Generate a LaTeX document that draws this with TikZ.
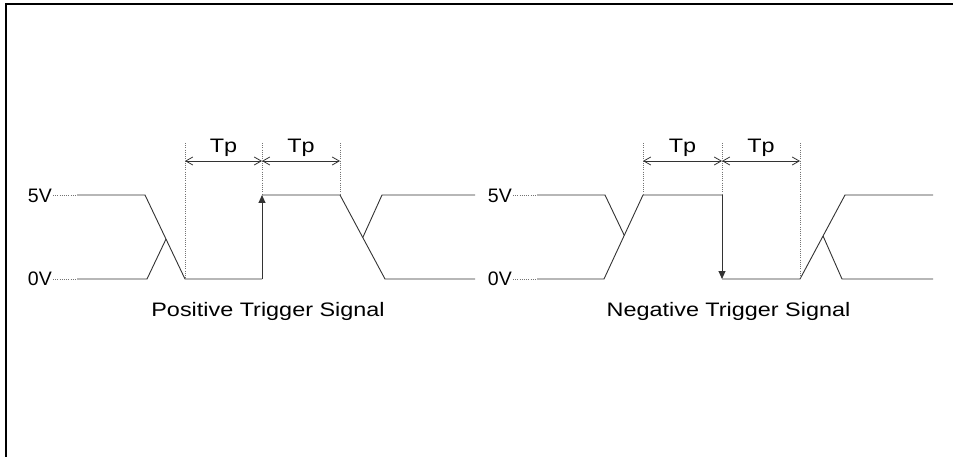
\documentclass[tikz,border=0pt]{standalone}
\usepackage{fontspec}
\setmainfont{Liberation Sans}
\usetikzlibrary{arrows.meta}
\begin{document}
\begin{tikzpicture}[x=1pt,y=-1pt,
  sig/.style={line width=0.9pt, black!80},
  guide/.style={line width=0.6pt, black!55, dash pattern=on 1pt off 1.2pt},
  dimarrow/.style={line width=0.8pt, black!80, {Straight Barb[length=7pt,width=8pt]}-{Straight Barb[length=7pt,width=8pt]}},
  edgearrow/.style={sig, -{Triangle[length=8pt,width=7pt]}},
  lvl/.style={font=\fontsize{19.5}{22}\selectfont, inner sep=0pt, anchor=east},
  lbl/.style={font=\fontsize{19.5}{22}\selectfont, inner sep=0pt, anchor=base},
  frame/.style={line width=2pt, black}]
\useasboundingbox (0,0) rectangle (953,457);
\draw[frame] (5.5,457) -- (5.5,4.5) -- (953,4.5);

% ---------- left panel: positive trigger ----------
\node[lvl] (L5) at (52,196) {5V};
\node[lvl] (L0) at (52,279) {0V};
\coordinate (Lh0) at (53,195);
\coordinate (Ll0) at (53,279);
\coordinate (Lhs) at (77,195);
\coordinate (Lls) at (77,279);
\draw[guide] (Lh0) -- (Lhs);
\draw[guide] (Ll0) -- (Lls);

\coordinate (La1) at (145,195);
\coordinate (La2) at (185,279);
\coordinate (Lb1) at (147,279);
\coordinate (Lb2) at (187,195);
\coordinate (Lx1) at (intersection of La1--La2 and Lb1--Lb2);
\coordinate (Ledge0) at (262,279);
\coordinate (Ledge1) at (262,195);
\coordinate (Lc1) at (340,195);
\coordinate (Lc2) at (385,279);
\coordinate (Ld1) at (344,279);
\coordinate (Ld2) at (382,195);
\coordinate (Lx2) at (intersection of Lc1--Lc2 and Ld1--Ld2);

\draw[sig] (Lhs) -- (La1) -- (La2) -- (Ledge0);
\draw[sig] (Lls) -- (Lb1) -- (Lx1);
\draw[edgearrow] (Ledge0) -- (Ledge1);
\draw[sig] (Ledge1) -- (Lc1) -- (Lc2) -- (475,279);
\draw[sig] (Lx2) -- (Ld2) -- (475,195);

\coordinate (Lg1) at (185,143);
\coordinate (Lg2) at (262,143);
\coordinate (Lg3) at (340,143);
\draw[guide] (Lg1) -- (La2);
\draw[guide] (Lg2) -- (Ledge1);
\draw[guide] (Lg3) -- (Lc1);
\coordinate (Lm1) at (185,161);
\coordinate (Lm2) at (262,161);
\coordinate (Lm3) at (340,161);
\draw[dimarrow] (Lm1) -- (Lm2);
\draw[dimarrow] (Lm2) -- (Lm3);
\node[lbl] (Ltp1) at (223.5,153) {\scalebox{1.2}[1]{Tp}};
\node[lbl] (Ltp2) at (301,153) {\scalebox{1.2}[1]{Tp}};
\node[lbl] (Ltitle) at (268,316.5) {\scalebox{1.2}[1]{Positive Trigger Signal}};

% ---------- right panel: negative trigger ----------
\node[lvl] (R5) at (512,196) {5V};
\node[lvl] (R0) at (512,279) {0V};
\coordinate (Rh0) at (513,195);
\coordinate (Rl0) at (513,279);
\coordinate (Rhs) at (537,195);
\coordinate (Rls) at (537,279);
\draw[guide] (Rh0) -- (Rhs);
\draw[guide] (Rl0) -- (Rls);

\coordinate (Ra1) at (605,195);
\coordinate (Ra2) at (645,279);
\coordinate (Rb1) at (604,279);
\coordinate (Rb2) at (643,195);
\coordinate (Rx1) at (intersection of Ra1--Ra2 and Rb1--Rb2);
\coordinate (Redge0) at (722,195);
\coordinate (Redge1) at (722,279);
\coordinate (Rc1) at (800,279);
\coordinate (Rc2) at (845,195);
\coordinate (Rd1) at (805,195);
\coordinate (Rd2) at (842,279);
\coordinate (Rx2) at (intersection of Rc1--Rc2 and Rd1--Rd2);

\draw[sig] (Rhs) -- (Ra1) -- (Rx1);
\draw[sig] (Rls) -- (Rb1) -- (Rb2) -- (Redge0);
\draw[edgearrow] (Redge0) -- (Redge1);
\draw[sig] (Redge1) -- (Rc1) -- (Rc2) -- (933,195);
\draw[sig] (Rx2) -- (Rd2) -- (933,279);

\coordinate (Rg1) at (643,143);
\coordinate (Rg2) at (722,143);
\coordinate (Rg3) at (800,143);
\draw[guide] (Rg1) -- (Rb2);
\draw[guide] (Rg2) -- (Redge0);
\draw[guide] (Rg3) -- (Rc1);
\coordinate (Rm1) at (643,161);
\coordinate (Rm2) at (722,161);
\coordinate (Rm3) at (800,161);
\draw[dimarrow] (Rm1) -- (Rm2);
\draw[dimarrow] (Rm2) -- (Rm3);
\node[lbl] (Rtp1) at (682.5,153) {\scalebox{1.2}[1]{Tp}};
\node[lbl] (Rtp2) at (761,153) {\scalebox{1.2}[1]{Tp}};
\node[lbl] (Rtitle) at (728.5,316.5) {\scalebox{1.2}[1]{Negative Trigger Signal}};
\end{tikzpicture}
\end{document}
